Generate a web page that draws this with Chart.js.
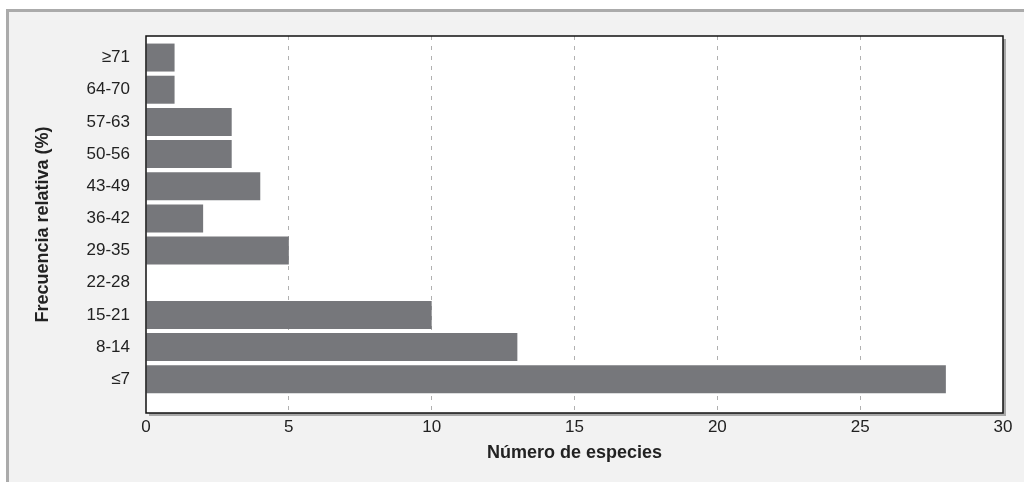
<!DOCTYPE html>
<html><head><meta charset="utf-8">
<script src="https://cdn.jsdelivr.net/npm/chart.js@4/dist/chart.umd.min.js"></script>
<style>
html,body{margin:0;padding:0;background:#fff;width:1024px;height:482px;overflow:hidden;}
#frame{position:absolute;left:6px;top:9px;width:1030px;height:490px;background:#f2f2f2;border-top:3px solid #ababab;border-left:3px solid #ababab;}
#wrap{position:absolute;left:0;top:0;width:1024px;height:482px;}
</style></head>
<body>
<div id="frame"></div>
<div id="wrap"><canvas id="c" width="1024" height="482"></canvas></div>
<script>
const categories = ['≥71','64-70','57-63','50-56','43-49','36-42','29-35','22-28','15-21','8-14','≤7'];
const especies = [1,1,3,3,4,2,5,0,10,13,28];
const xTicks = [0,5,10,15,20,25,30];
const xTitle = 'Número de especies';
const yTitle = 'Frecuencia relativa (%)';

const FONT = "'Liberation Sans Narrow','Liberation Sans',Arial,sans-serif";

const areaPlugin = {
  id:'area',
  beforeDraw(chart){
    const {ctx, chartArea:a} = chart;
    ctx.save();
    ctx.fillStyle = '#a8a8a8';
    ctx.fillRect(a.right, a.top+3, 3, a.bottom-a.top);
    ctx.fillRect(a.left+3, a.bottom, a.right-a.left, 3);
    ctx.fillStyle = '#ffffff';
    ctx.fillRect(a.left, a.top, a.right-a.left, a.bottom-a.top);
    ctx.restore();
  },
  afterDatasetsDraw(chart){
    const {ctx, chartArea:a} = chart;
    ctx.save();
    ctx.strokeStyle = '#111';
    ctx.lineWidth = 1.5;
    ctx.strokeRect(a.left, a.top, a.right-a.left, a.bottom-a.top);
    ctx.restore();
  }
};

new Chart(document.getElementById('c'), {
  type:'bar',
  data:{
    datasets:[{
      data: especies.map((v,i)=>({x:v,y:i})),
      backgroundColor:'#76777b',
      borderWidth:0,
      categoryPercentage:1,
      barPercentage:0.87
    }]
  },
  options:{
    indexAxis:'y',
    responsive:false,
    animation:false,
    devicePixelRatio:1,
    layout:{padding:{top:36,right:21,left:0,bottom:0}},
    plugins:{legend:{display:false},tooltip:{enabled:false}},
    scales:{
      x:{
        type:'linear',
        min:0,max:30,
        afterBuildTicks(s){ s.ticks = xTicks.map(v=>({value:v})); },
        afterFit(s){ s.height = 69; },
        border:{display:false, dash:[4,6]},
        grid:{
          drawTicks:false,
          color:(c)=> (c.tick && (c.tick.value===0 || c.tick.value===30)) ? 'rgba(0,0,0,0)' : '#b0b0b0',
          lineWidth:1
        },
        ticks:{color:'#222',font:{family:FONT,size:17,style:'condensed'},padding:4},
        title:{display:true,text:xTitle,color:'#222',font:{family:FONT,size:18,weight:'bold',style:'condensed'},padding:{top:0,bottom:18}}
      },
      y:{
        type:'linear',
        reverse:true,
        offset:false,
        min:-0.67,max:11.05,
        afterBuildTicks(s){ s.ticks = categories.map((c,i)=>({value:i})); },
        afterFit(s){ s.width = 146; },
        border:{display:false},
        grid:{display:false,drawTicks:false},
        ticks:{color:'#222',font:{family:FONT,size:17,style:'condensed'},padding:16,
          callback:(v)=>categories[v]},
        title:{display:true,text:yTitle,color:'#222',font:{family:FONT,size:18,weight:'bold',style:'condensed'},padding:{top:32,bottom:0}}
      }
    }
  },
  plugins:[areaPlugin]
});
</script>
</body></html>
